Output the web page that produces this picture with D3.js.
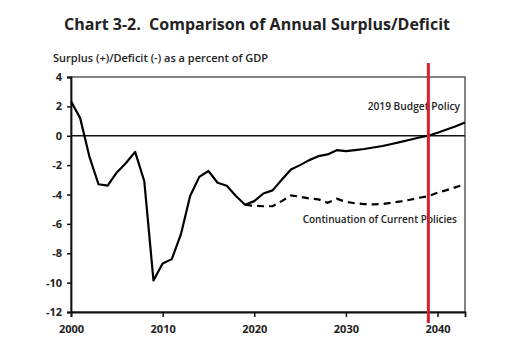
<!DOCTYPE html>
<html>
<head>
<meta charset="utf-8">
<script src="https://cdn.jsdelivr.net/npm/d3@7"></script>
<style>
  body { margin: 0; background: #fff; }
  text { font-family: "Open Sans", "Noto Sans", sans-serif; fill: #222; }
</style>
</head>
<body>
<div id="chart"></div>
<script>
// years and values
const budgetYears = d3.range(2000, 2044);
const budgetPolicy = [
  2.35, 1.2, -1.4, -3.3, -3.4, -2.5, -1.85, -1.1, -3.1, -9.85,
  -8.7, -8.4, -6.7, -4.1, -2.8, -2.4, -3.2, -3.4, -4.1, -4.7,
  -4.45, -3.93, -3.72, -3.0, -2.3, -2.0, -1.66, -1.39, -1.27, -0.98,
  -1.05, -0.98, -0.9, -0.8, -0.7, -0.56, -0.42, -0.27, -0.12, 0.0,
  0.2, 0.43, 0.65, 0.9
];
const currentYears = d3.range(2019, 2044);
const currentPolicies = [
  -4.7, -4.77, -4.8, -4.8, -4.45, -4.06, -4.15, -4.27, -4.33, -4.56,
  -4.29, -4.5, -4.6, -4.65, -4.67, -4.65, -4.56, -4.47, -4.36, -4.22,
  -4.12, -3.88, -3.7, -3.5, -3.3
];
const yTicks = [4, 2, 0, -2, -4, -6, -8, -10, -12];
const xTicks = [2000, 2010, 2020, 2030, 2040];
const markerYear = 2039;

const width = 509, height = 361;
const margin = {top: 77, right: 44, bottom: 49, left: 71};
const w = width - margin.left - margin.right;
const h = height - margin.top - margin.bottom;

const svg = d3.select('#chart')
    .append('svg')
    .attr('width', width)
    .attr('height', height);

svg.append('text')
    .attr('x', 257)
    .attr('y', 30)
    .attr('text-anchor', 'middle')
    .style('font-size', '16px')
    .style('font-weight', 'bold')
    .style('white-space', 'pre')
    .text('Chart 3-2.  Comparison of Annual Surplus/Deficit');

svg.append('text')
    .attr('x', 53)
    .attr('y', 62)
    .style('font-size', '11px')
    .style('font-weight', '600')
    .text('Surplus (+)/Deficit (-) as a percent of GDP');

const g = svg.append('g')
    .attr('transform', 'translate(' + margin.left + ',' + margin.top + ')');

const x = d3.scaleLinear().domain([2000, 2043]).range([0, w]);
const y = d3.scaleLinear().domain([-12, 4]).range([h, 0]);

// frame
g.append('rect')
    .attr('width', w)
    .attr('height', h)
    .attr('fill', 'none')
    .attr('stroke', '#333')
    .attr('stroke-width', 1.2);

const yAxis = g.append('g')
    .call(d3.axisLeft(y).tickValues(yTicks).tickFormat(d => String(d)).tickSize(4).tickPadding(5));
const xAxis = g.append('g')
    .attr('transform', 'translate(0,' + h + ')')
    .call(d3.axisBottom(x).tickValues(xTicks).tickFormat(d => String(d)).tickSize(5).tickPadding(8));

[yAxis, xAxis].forEach(a => {
  a.select('.domain').attr('stroke', '#111').attr('stroke-width', 1.8);
  a.selectAll('.tick line').attr('stroke', '#111').attr('stroke-width', 1.5);
  a.selectAll('text')
      .style('font-size', '11px')
      .style('font-weight', 'bold')
      .style('font-family', '"Open Sans", sans-serif')
      .attr('fill', '#222');
});

// zero line
g.append('line')
    .attr('x1', 0).attr('x2', w)
    .attr('y1', y(0)).attr('y2', y(0))
    .attr('stroke', '#111')
    .attr('stroke-width', 1.5);

const line = d3.line()
    .x(d => x(d[0]))
    .y(d => y(d[1]));

g.append('path')
    .datum(currentYears.map((yr, i) => [yr, currentPolicies[i]]))
    .attr('d', line)
    .attr('fill', 'none')
    .attr('stroke', '#000')
    .attr('stroke-width', 2.2)
    .attr('stroke-dasharray', '7,5');

g.append('path')
    .datum(budgetYears.map((yr, i) => [yr, budgetPolicy[i]]))
    .attr('d', line)
    .attr('fill', 'none')
    .attr('stroke', '#000')
    .attr('stroke-width', 2.2)
    .attr('stroke-linejoin', 'round');

g.append('text')
    .attr('x', x(2043) - 5)
    .attr('y', y(2) + 4)
    .attr('text-anchor', 'end')
    .style('font-size', '10.2px')
    .style('font-weight', '600')
    .text('2019 Budget Policy');

g.append('text')
    .attr('x', x(2043) - 8)
    .attr('y', y(-5.7) + 4)
    .attr('text-anchor', 'end')
    .style('font-size', '10px')
    .style('font-weight', '600')
    .text('Continuation of Current Policies');

// red marker line
g.append('line')
    .attr('x1', x(markerYear)).attr('x2', x(markerYear))
    .attr('y1', -14).attr('y2', h + 11)
    .attr('stroke', '#d6202c')
    .attr('stroke-width', 3);
</script>
</body>
</html>
